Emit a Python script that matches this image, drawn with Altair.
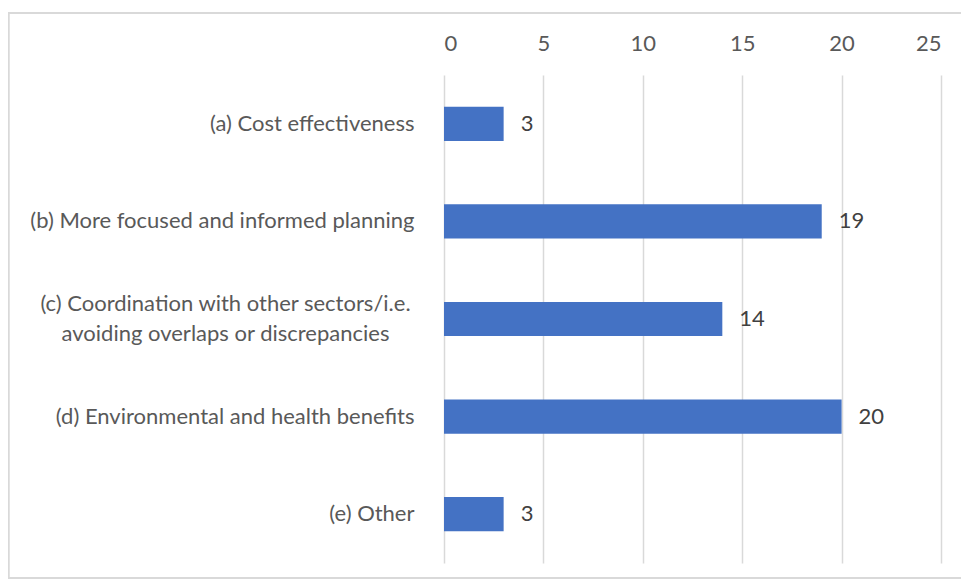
import altair as alt
import pandas as pd

categories = [
    "(a) Cost effectiveness",
    "(b) More focused and informed planning",
    "(c) Coordination with other sectors/i.e.|avoiding overlaps or discrepancies",
    "(d) Environmental and health benefits",
    "(e) Other",
]
values = [3, 19, 14, 20, 3]
x_ticks = [0, 5, 10, 15, 20, 25]

df = pd.DataFrame({"cat": categories, "val": values})
multi = df[df["cat"].str.contains(r"\|")].copy()
multi["lines"] = multi["cat"].str.split("|")

FONT = "Lato"
FS = 22
x = alt.X("val:Q", scale=alt.Scale(domain=[0, 25], nice=False),
          axis=alt.Axis(orient="top", values=x_ticks, title=None, domain=False, ticks=False,
                        labelFontSize=FS, labelColor="#595959", labelFont=FONT, labelPadding=20,
                        gridColor="#d9d9d9", gridWidth=1.5))
y = alt.Y("cat:N", sort=categories, scale=alt.Scale(paddingInner=0.65, paddingOuter=0.325),
          axis=alt.Axis(title=None, domain=False, ticks=False, labelFontSize=FS, labelColor="#595959",
                        labelFont=FONT, labelPadding=30, labelLimit=500,
                        labelExpr="indexof(datum.label, '|') >= 0 ? '' : datum.label"))

bars = alt.Chart(df).mark_bar(color="#4472C4").encode(x=x, y=y)
text = alt.Chart(df).mark_text(align="left", dx=17, fontSize=FS, font=FONT, color="#404040").encode(
    x="val:Q", y=alt.Y("cat:N", sort=categories), text="val:Q")
ml = alt.Chart(multi).mark_text(align="center", baseline="middle", fontSize=FS, font=FONT,
                                color="#595959", lineHeight=30, dy=-15).encode(
    x=alt.value(-218.5), y=alt.Y("cat:N", sort=categories), text="lines")
border = alt.Chart(df).mark_rect(fill=None, stroke="#d9d9d9", strokeWidth=1.5).encode(
    x=alt.value(-435.5), x2=alt.value(518.5), y=alt.value(-62), y2=alt.value(503))

chart = alt.layer(border, bars, text, ml).properties(
    width=497, height=488,
    autosize=alt.AutoSizeParams(type="none"),
    padding={"left": 436, "top": 67, "right": 20, "bottom": 20},
).configure_view(stroke=None)

chart.save("out.html", embed_options={"renderer": "svg", "actions": False})
